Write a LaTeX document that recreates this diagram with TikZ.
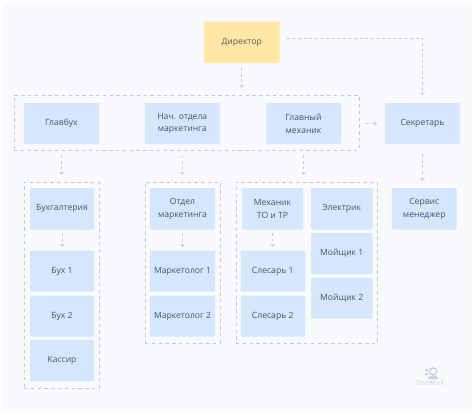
\documentclass[tikz,border=0pt]{standalone}
\usepackage{fontspec}
\setmainfont{Open Sans}
\usetikzlibrary{arrows.meta,calc}
\definecolor{bgc}{HTML}{F8FAFE}
\definecolor{bluebox}{HTML}{D5E7FD}
\definecolor{yellowbox}{HTML}{FFE7A5}
\definecolor{txtc}{HTML}{46546E}
\definecolor{dirtxt}{HTML}{5A5A50}
\definecolor{dashc}{HTML}{C6C9CE}
\definecolor{logoc}{HTML}{C9D3E2}
\tikzset{
  x=1pt,y=-1pt,
  card/.style={rectangle,rounded corners=1pt,inner sep=0pt,align=center,font=\fontsize{8.6}{12.8}\selectfont,text=txtc,fill=bluebox},
  topcard/.style={card,fill=yellowbox,text=dirtxt},
  group/.style={rectangle,inner sep=0pt,draw=dashc,line width=.7pt,dash pattern=on 3.4pt off 3.4pt},
  link/.style={draw=dashc,line width=.7pt,dash pattern=on 2.8pt off 2.8pt,-{Straight Barb[length=2pt,width=4pt,line width=.7pt]}},
}
\newcommand{\bx}[7][card]{%
  \pgfmathsetmacro{\bxw}{#4-#2}\pgfmathsetmacro{\bxh}{#5-#3}%
  \node[#1,minimum width=\bxw pt,minimum height=\bxh pt] (#6) at ({(#2+#4)/2},{(#3+#5)/2}) {#7};}
\begin{document}
\begin{tikzpicture}
\useasboundingbox (0,0) rectangle (474,415);
\fill[white] (0,0) rectangle (474,415);
\fill[bgc,rounded corners=5pt] (2,3) rectangle (472,411);
% groups
\bx[group]{14}{95}{359}{150}{gtop}{}
\bx[group]{24}{182}{99}{388}{gacc}{}
\bx[group]{145}{182}{220}{343}{gmark}{}
\bx[group]{236}{182}{377.5}{343}{gmech}{}
% cards
\bx[topcard]{204}{21.5}{279.5}{63}{dir}{Директор}
\bx{24}{103}{99}{144}{glav}{Главбух}
\bx{144.5}{103}{220}{144}{nach}{Нач. отдела\\маркетинга}
\bx{266}{103}{341}{144}{mech}{Главный\\механик}
\bx{385}{103}{460}{144}{sec}{Секретарь}
\bx{30}{188}{94}{229.5}{buh}{Бухгалтерия}
\bx{30}{250.5}{94}{291.5}{b1}{Бух 1}
\bx{30}{295.5}{94}{336.5}{b2}{Бух 2}
\bx{30}{340}{94}{381}{kas}{Кассир}
\bx{150}{188}{215}{229.5}{otd}{Отдел\\маркетинга}
\bx{150}{250.5}{215}{291.5}{m1}{Маркетолог 1}
\bx{150}{295.5}{215}{336.5}{m2}{Маркетолог 2}
\bx{242}{188}{303}{229.5}{mto}{Механик\\ТО и ТР}
\bx{240.5}{250.5}{305}{291.5}{s1}{Слесарь 1}
\bx{240.5}{295.5}{305}{336.5}{s2}{Слесарь 2}
\bx{311}{188}{372.5}{229.5}{el}{Электрик}
\bx{311}{233}{372.5}{274}{w1}{Мойщик 1}
\bx{311}{277.5}{372.5}{318.5}{w2}{Мойщик 2}
\bx{392}{188}{456.5}{229.5}{serv}{Сервис\\менеджер}
% connectors
\coordinate (dirout) at (279.5,38.5);
\draw[link,shorten <=5pt,shorten >=7pt] (dir.south) -- (dir.south |- gtop.north);
\draw[link,shorten <=7.5pt,shorten >=8pt] (dirout) -| (sec.north);
\draw[link,shorten <=7pt,shorten >=8pt] (gtop.east |- sec.west) -- (sec.west);
\draw[link,shorten <=5pt,shorten >=7pt] (glav.south |- gtop.south) -- (gacc.north);
\draw[link,shorten <=5pt,shorten >=7pt] (nach.south |- gtop.south) -- (gmark.north);
\draw[link,shorten <=5pt,shorten >=7pt] (mech.south |- gtop.south) -- (mech.south |- gmech.north);
\draw[link,shorten <=10pt,shorten >=7pt] (sec.south) -- (sec.south |- serv.north);
\draw[link,shorten <=3.5pt,shorten >=3.5pt] (buh.south) -- (b1.north);
\draw[link,shorten <=3.5pt,shorten >=3.5pt] (otd.south) -- (m1.north);
\draw[link,shorten <=3.5pt,shorten >=3.5pt] (mto.south) -- (s1.north);
% logo
\draw[logoc,line width=1.5pt] (433,371.5) circle (3.6);
\fill[logoc] (426.5,370) circle (1.6);
\fill[logoc] (424.5,372.5) rectangle (428,375);
\fill[logoc] (427.5,379) .. controls (428,374.5) and (438,374.5) .. (438.5,379) -- cycle;
\node[inner sep=0pt,font=\fontsize{6.5}{8}\selectfont,text=logoc] (logo) at (430,383.5) {TestWork};
\end{tikzpicture}
\end{document}
